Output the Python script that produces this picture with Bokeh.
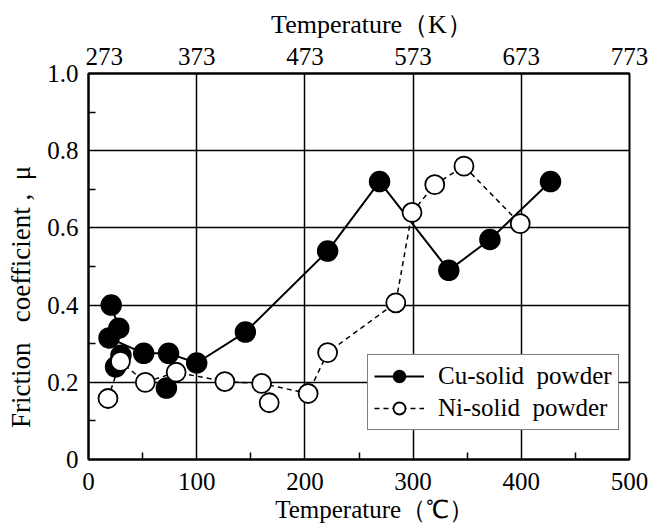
from bokeh.plotting import figure
from bokeh.models import (Range1d, LinearAxis, FixedTicker, Legend, LegendItem)
from bokeh.embed import file_html
from bokeh.resources import INLINE

# Cu-solid powder (connected series)
cu_x = [21, 28, 19, 51, 74, 100, 145, 221, 269, 333, 371, 427]
cu_y = [0.40, 0.34, 0.315, 0.275, 0.275, 0.25, 0.33, 0.54, 0.72, 0.49, 0.57, 0.72]
# Cu-solid powder (extra points in the low-temperature cluster)
cu_extra_x = [25, 30, 72]
cu_extra_y = [0.24, 0.27, 0.185]

# Ni-solid powder
ni_x = [18, 29.5, 52.5, 81, 126, 160, 203, 221, 284, 299, 320, 347, 399]
ni_y = [0.158, 0.254, 0.20, 0.226, 0.202, 0.197, 0.171, 0.277, 0.406, 0.64, 0.712, 0.76, 0.611]
ni_extra_x = [167]
ni_extra_y = [0.147]

x_ticks = [0, 100, 200, 300, 400, 500]
y_ticks = [0, 0.2, 0.4, 0.6, 0.8, 1.0]
k_ticks = [273, 373, 473, 573, 673, 773]

FONT = "Liberation Serif"
FS = "25px"
NB = "\u00a0"

p = figure(width=651, height=532, frame_width=541, frame_height=386,
           x_range=Range1d(0, 500), y_range=Range1d(0, 1.0),
           output_backend="svg", toolbar_location=None,
           min_border_left=88, min_border_right=22,
           min_border_top=73, min_border_bottom=73)

p.background_fill_color = "white"
p.border_fill_color = "white"
p.outline_line_color = "black"
p.outline_line_width = 2

# grid
p.xgrid.ticker = FixedTicker(ticks=x_ticks)
p.ygrid.ticker = FixedTicker(ticks=y_ticks)
for g in (p.xgrid, p.ygrid):
    g.grid_line_color = "black"
    g.grid_line_width = 1.5
    g.grid_line_alpha = 1.0

# bottom axis
xa = p.xaxis[0]
xa.ticker = FixedTicker(ticks=x_ticks, minor_ticks=[50, 150, 250, 350, 450])
xa.axis_label = NB * 5 + "Temperature（℃）"
# left axis
ya = p.yaxis[0]
ya.ticker = FixedTicker(ticks=y_ticks, minor_ticks=[0.1, 0.3, 0.5, 0.7, 0.9])
ya.axis_label = "Friction" + NB * 3 + "coefficient" + NB + "," + NB * 2 + "μ" + NB * 9
ya.major_label_overrides = {0: "0", 1.0: "1.0"}

# top axis (Kelvin)
p.extra_x_ranges = {"K": Range1d(273, 773)}
ta = LinearAxis(x_range_name="K", ticker=FixedTicker(ticks=k_ticks),
                axis_label=NB * 4 + "Temperature（K）")
ta.major_label_overrides = {273: NB * 5 + "273"}
p.add_layout(ta, "above")

for ax in (xa, ya, ta):
    ax.axis_line_color = "black"
    ax.axis_line_width = 2
    ax.major_tick_in = 0
    ax.major_tick_out = 0
    ax.minor_tick_in = 7
    ax.minor_tick_out = 0
    ax.minor_tick_line_width = 1.5
    ax.minor_tick_line_color = "black"
    ax.major_label_text_font = FONT
    ax.major_label_text_font_size = FS
    ax.major_label_text_color = "black"
    ax.axis_label_text_font = FONT
    ax.axis_label_text_font_size = FS
    ax.axis_label_text_font_style = "normal"
    ax.axis_label_text_color = "black"
ta.minor_tick_in = 0
ya.axis_label_text_font_size = "27px"
ta.axis_label_text_font_size = "26px"
xa.major_label_standoff = 13
ta.major_label_standoff = 4
ya.major_label_standoff = 10
xa.axis_label_standoff = 3
ta.axis_label_standoff = 1
ya.axis_label_standoff = 8

# Cu series
cu_line = p.line(cu_x, cu_y, line_color="black", line_width=2)
cu_pts = p.scatter(cu_x + cu_extra_x, cu_y + cu_extra_y, marker="circle", size=20,
                   fill_color="black", line_color="black", line_width=1.5)

# Ni series
ni_line = p.line(ni_x, ni_y, line_color="black", line_width=1.5, line_dash="5 4")
ni_pts = p.scatter(ni_x + ni_extra_x, ni_y + ni_extra_y, marker="circle", size=19,
                   fill_color="white", line_color="black", line_width=1.8)

legend = Legend(items=[
    LegendItem(label="Cu-solid  powder", renderers=[cu_line, cu_pts]),
    LegendItem(label="Ni-solid  powder", renderers=[ni_line, ni_pts]),
], location=(279, 29))
legend.border_line_color = "black"
legend.border_line_width = 1.5
legend.background_fill_alpha = 1.0
legend.label_text_font = FONT
legend.label_text_font_size = FS
legend.label_text_color = "black"
legend.glyph_width = 50
legend.glyph_height = 30
legend.label_height = 30
legend.spacing = 2
legend.padding = 6
legend.margin = 0
legend.label_standoff = 14
p.add_layout(legend, "center")

open("out.html", "w").write(file_html(p, INLINE))
